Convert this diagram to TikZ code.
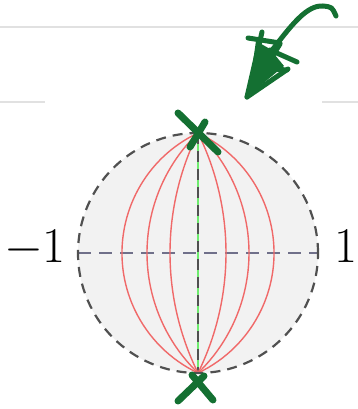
\documentclass[tikz,border=0pt]{standalone}
\usepackage{fix-cm}
\usetikzlibrary{calc}
\definecolor{pen}{RGB}{20,112,50}
\definecolor{rule}{RGB}{225,225,225}
\definecolor{axis}{RGB}{112,112,138}
\definecolor{rim}{RGB}{80,80,80}
\definecolor{arcred}{RGB}{240,105,105}
\definecolor{lgreen}{RGB}{110,235,110}
\begin{document}
\begin{tikzpicture}[x=1pt,y=1pt,
  ink/.style={draw=pen,line width=7pt,line cap=round,line join=round},
  redarc/.style={draw=arcred,line width=1.4pt},
  lbl/.style={inner sep=0pt,font=\fontsize{50}{60}\selectfont}]
\useasboundingbox (0,0) rectangle (358,409);
% ruled lines
\draw[rule,line width=2pt] (0,382) -- (358,382);
\draw[rule,line width=2pt] (0,307) -- (45,307);
\draw[rule,line width=2pt] (322,307) -- (358,307);
% disc
\coordinate (O) at (198,156);
\coordinate (N) at (198,276);
\coordinate (S) at (198,36);
\coordinate (W) at (78,156);
\coordinate (E) at (318,156);
\fill[gray!10] (O) circle[radius=120];
% axes
\draw[lgreen,line width=1.5pt] (N) -- (S);
\draw[rim,line width=1.5pt,dash pattern=on 11pt off 7pt] (N) -- (S);
\draw[axis,line width=2.2pt,dash pattern=on 13pt off 8pt] (W) -- (E);
% red arcs
\foreach \a in {28,51,76}{
  \pgfmathsetmacro\c{(\a*\a-14400)/(2*\a)}
  \pgfmathsetmacro\r{\a-\c}
  \pgfmathsetmacro\t{atan2(120,-\c)}
  \draw[redarc] (N) arc[start angle=\t, end angle=-\t, radius=\r];
  \draw[redarc] (N) arc[start angle=180-\t, end angle=180+\t, radius=\r];
}
% rim
\draw[rim,line width=2.2pt,dash pattern=on 10pt off 7pt] (O) circle[radius=120];
% labels
\node[lbl,anchor=base] (m1) at (35,146) {$-1$};
\node[lbl,anchor=base] (p1) at (345.5,146) {$1$};
% X marks
\draw[ink] (178,296) -- (218,257);
\draw[ink] (205,287) -- (190,262);
\draw[ink] (192,34) -- (213,9);
\draw[ink] (204,33) -- (178,8);
% hand-drawn arrow
\draw[ink,line width=5pt] (270,356) .. controls (292,385) and (307,404) .. (323,403) .. controls (332,402) .. (336,393);
\fill[pen] (248,313) -- (256,368) -- (270,360) -- (284,343) -- cycle;
\draw[ink,line width=5pt] (262,377) -- (247,312) -- (280,365);
\draw[ink,line width=5pt] (247,312) -- (288,340);
\draw[ink,line width=5pt] (248,371) -- (280,366);
\draw[ink,line width=5pt] (270,359) -- (297,347);
\draw[ink,line width=5pt] (258,341) -- (287,339);
\end{tikzpicture}
\end{document}
